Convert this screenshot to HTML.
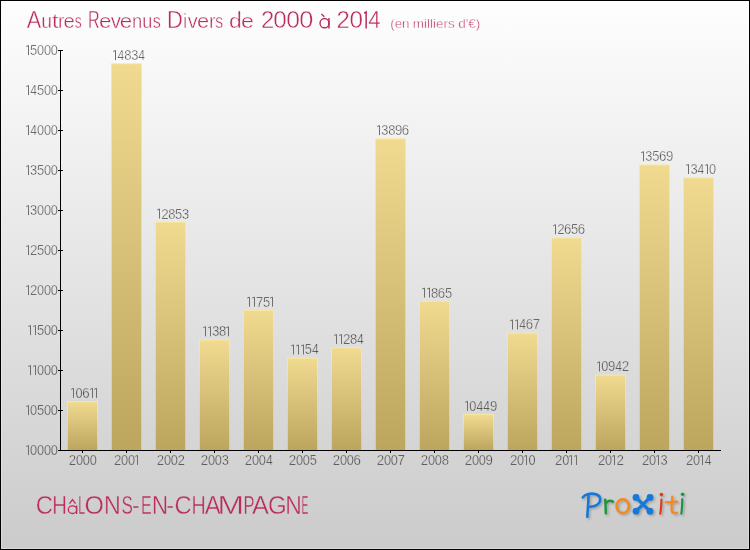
<!DOCTYPE html>
<html><head><meta charset="utf-8"><title>Autres Revenus Divers de 2000 à 2014</title>
<style>
html,body{margin:0;padding:0;}
body{width:750px;height:550px;overflow:hidden;background:#cbcbcb;font-family:"Liberation Sans",sans-serif;}
#c{position:absolute;left:0;top:0;width:750px;height:550px;box-sizing:border-box;border:1px solid #000;
background:linear-gradient(to bottom,rgb(254,254,254) 0%,rgb(203,203,203) 100%);}
svg{position:absolute;left:0;top:0;font-family:"Liberation Sans",sans-serif;will-change:transform;}
</style></head><body>
<div id="c"></div>
<svg width="750" height="550" viewBox="0 0 750 550">
<defs>
<linearGradient id="bar" x1="0" y1="0" x2="0" y2="1"><stop offset="0" stop-color="#f0da90"/><stop offset="1" stop-color="#bca65e"/></linearGradient>
<linearGradient id="bare" x1="0" y1="0" x2="0" y2="1"><stop offset="0" stop-color="#f9e8a0"/><stop offset="1" stop-color="#e0cd84"/></linearGradient>
<filter id="sh" x="-10%" y="-20%" width="125%" height="150%"><feGaussianBlur stdDeviation="0.8"/></filter>
</defs>
<rect x="1.5" y="1.5" width="747" height="547" fill="none" stroke="#ffffff" stroke-opacity="0.3" stroke-width="1"/>
<rect x="67" y="401.12" width="31" height="48.88" fill="url(#bare)"/>
<rect x="68" y="402.12" width="29" height="47.88" fill="url(#bar)"/>
<rect x="111" y="63.28" width="31" height="386.72" fill="url(#bare)"/>
<rect x="112" y="64.28" width="29" height="385.72" fill="url(#bar)"/>
<rect x="155" y="221.76" width="31" height="228.24" fill="url(#bare)"/>
<rect x="156" y="222.76" width="29" height="227.24" fill="url(#bar)"/>
<rect x="199" y="339.52" width="31" height="110.48" fill="url(#bare)"/>
<rect x="200" y="340.52" width="29" height="109.48" fill="url(#bar)"/>
<rect x="243" y="309.92" width="31" height="140.08" fill="url(#bare)"/>
<rect x="244" y="310.92" width="29" height="139.08" fill="url(#bar)"/>
<rect x="287" y="357.68" width="31" height="92.32" fill="url(#bare)"/>
<rect x="288" y="358.68" width="29" height="91.32" fill="url(#bar)"/>
<rect x="331" y="347.28" width="31" height="102.72" fill="url(#bare)"/>
<rect x="332" y="348.28" width="29" height="101.72" fill="url(#bar)"/>
<rect x="375" y="138.32" width="31" height="311.68" fill="url(#bare)"/>
<rect x="376" y="139.32" width="29" height="310.68" fill="url(#bar)"/>
<rect x="419" y="300.80" width="31" height="149.20" fill="url(#bare)"/>
<rect x="420" y="301.80" width="29" height="148.20" fill="url(#bar)"/>
<rect x="463" y="414.08" width="31" height="35.92" fill="url(#bare)"/>
<rect x="464" y="415.08" width="29" height="34.92" fill="url(#bar)"/>
<rect x="507" y="332.64" width="31" height="117.36" fill="url(#bare)"/>
<rect x="508" y="333.64" width="29" height="116.36" fill="url(#bar)"/>
<rect x="551" y="237.52" width="31" height="212.48" fill="url(#bare)"/>
<rect x="552" y="238.52" width="29" height="211.48" fill="url(#bar)"/>
<rect x="595" y="374.64" width="31" height="75.36" fill="url(#bare)"/>
<rect x="596" y="375.64" width="29" height="74.36" fill="url(#bar)"/>
<rect x="639" y="164.48" width="31" height="285.52" fill="url(#bare)"/>
<rect x="640" y="165.48" width="29" height="284.52" fill="url(#bar)"/>
<rect x="683" y="177.20" width="31" height="272.80" fill="url(#bare)"/>
<rect x="684" y="178.20" width="29" height="271.80" fill="url(#bar)"/>
<rect x="60" y="50" width="1" height="401" fill="#000"/>
<rect x="60" y="450" width="661" height="1" fill="#000"/>
<rect x="58" y="50" width="5" height="1" fill="#000"/>
<path d="M26.20 46.50 L28.50 45.50 L28.50 55.10" fill="none" stroke="#6e6e6e" stroke-width="1" stroke-linejoin="miter"/>
<text transform="translate(30.08 55.10) scale(0.8873 1)" font-size="14.50" fill="#303030" stroke="#f9f9f9" stroke-width="0.46">5</text>
<text transform="translate(37.00 55.10) scale(0.8801 1)" font-size="14.50" fill="#303030" stroke="#f9f9f9" stroke-width="0.46">0</text>
<text transform="translate(43.90 55.10) scale(0.8801 1)" font-size="14.50" fill="#303030" stroke="#f9f9f9" stroke-width="0.46">0</text>
<text transform="translate(50.80 55.10) scale(0.8801 1)" font-size="14.50" fill="#303030" stroke="#f9f9f9" stroke-width="0.46">0</text>
<rect x="58" y="90" width="5" height="1" fill="#000"/>
<path d="M26.20 86.50 L28.50 85.50 L28.50 95.10" fill="none" stroke="#6e6e6e" stroke-width="1" stroke-linejoin="miter"/>
<text transform="translate(30.32 95.10) scale(0.8349 1)" font-size="14.50" fill="#303030" stroke="#f6f6f6" stroke-width="0.46">4</text>
<text transform="translate(36.98 95.10) scale(0.8873 1)" font-size="14.50" fill="#303030" stroke="#f6f6f6" stroke-width="0.46">5</text>
<text transform="translate(43.90 95.10) scale(0.8801 1)" font-size="14.50" fill="#303030" stroke="#f6f6f6" stroke-width="0.46">0</text>
<text transform="translate(50.80 95.10) scale(0.8801 1)" font-size="14.50" fill="#303030" stroke="#f6f6f6" stroke-width="0.46">0</text>
<rect x="58" y="130" width="5" height="1" fill="#000"/>
<path d="M26.20 126.50 L28.50 125.50 L28.50 135.10" fill="none" stroke="#6e6e6e" stroke-width="1" stroke-linejoin="miter"/>
<text transform="translate(30.32 135.10) scale(0.8349 1)" font-size="14.50" fill="#303030" stroke="#f2f2f2" stroke-width="0.46">4</text>
<text transform="translate(37.00 135.10) scale(0.8801 1)" font-size="14.50" fill="#303030" stroke="#f2f2f2" stroke-width="0.46">0</text>
<text transform="translate(43.90 135.10) scale(0.8801 1)" font-size="14.50" fill="#303030" stroke="#f2f2f2" stroke-width="0.46">0</text>
<text transform="translate(50.80 135.10) scale(0.8801 1)" font-size="14.50" fill="#303030" stroke="#f2f2f2" stroke-width="0.46">0</text>
<rect x="58" y="170" width="5" height="1" fill="#000"/>
<path d="M26.20 166.50 L28.50 165.50 L28.50 175.10" fill="none" stroke="#6e6e6e" stroke-width="1" stroke-linejoin="miter"/>
<text transform="translate(30.11 175.10) scale(0.8873 1)" font-size="14.50" fill="#303030" stroke="#eeeeee" stroke-width="0.46">3</text>
<text transform="translate(36.98 175.10) scale(0.8873 1)" font-size="14.50" fill="#303030" stroke="#eeeeee" stroke-width="0.46">5</text>
<text transform="translate(43.90 175.10) scale(0.8801 1)" font-size="14.50" fill="#303030" stroke="#eeeeee" stroke-width="0.46">0</text>
<text transform="translate(50.80 175.10) scale(0.8801 1)" font-size="14.50" fill="#303030" stroke="#eeeeee" stroke-width="0.46">0</text>
<rect x="58" y="210" width="5" height="1" fill="#000"/>
<path d="M26.20 206.50 L28.50 205.50 L28.50 215.10" fill="none" stroke="#6e6e6e" stroke-width="1" stroke-linejoin="miter"/>
<text transform="translate(30.11 215.10) scale(0.8873 1)" font-size="14.50" fill="#303030" stroke="#ebebeb" stroke-width="0.46">3</text>
<text transform="translate(37.00 215.10) scale(0.8801 1)" font-size="14.50" fill="#303030" stroke="#ebebeb" stroke-width="0.46">0</text>
<text transform="translate(43.90 215.10) scale(0.8801 1)" font-size="14.50" fill="#303030" stroke="#ebebeb" stroke-width="0.46">0</text>
<text transform="translate(50.80 215.10) scale(0.8801 1)" font-size="14.50" fill="#303030" stroke="#ebebeb" stroke-width="0.46">0</text>
<rect x="58" y="250" width="5" height="1" fill="#000"/>
<path d="M26.20 246.50 L28.50 245.50 L28.50 255.10" fill="none" stroke="#6e6e6e" stroke-width="1" stroke-linejoin="miter"/>
<text transform="translate(29.93 255.10) scale(0.9234 1)" font-size="14.50" fill="#303030" stroke="#e7e7e7" stroke-width="0.46">2</text>
<text transform="translate(36.98 255.10) scale(0.8873 1)" font-size="14.50" fill="#303030" stroke="#e7e7e7" stroke-width="0.46">5</text>
<text transform="translate(43.90 255.10) scale(0.8801 1)" font-size="14.50" fill="#303030" stroke="#e7e7e7" stroke-width="0.46">0</text>
<text transform="translate(50.80 255.10) scale(0.8801 1)" font-size="14.50" fill="#303030" stroke="#e7e7e7" stroke-width="0.46">0</text>
<rect x="58" y="290" width="5" height="1" fill="#000"/>
<path d="M26.20 286.50 L28.50 285.50 L28.50 295.10" fill="none" stroke="#6e6e6e" stroke-width="1" stroke-linejoin="miter"/>
<text transform="translate(29.93 295.10) scale(0.9234 1)" font-size="14.50" fill="#303030" stroke="#e3e3e3" stroke-width="0.46">2</text>
<text transform="translate(37.00 295.10) scale(0.8801 1)" font-size="14.50" fill="#303030" stroke="#e3e3e3" stroke-width="0.46">0</text>
<text transform="translate(43.90 295.10) scale(0.8801 1)" font-size="14.50" fill="#303030" stroke="#e3e3e3" stroke-width="0.46">0</text>
<text transform="translate(50.80 295.10) scale(0.8801 1)" font-size="14.50" fill="#303030" stroke="#e3e3e3" stroke-width="0.46">0</text>
<rect x="58" y="330" width="5" height="1" fill="#000"/>
<path d="M28.20 326.50 L30.50 325.50 L30.50 335.10" fill="none" stroke="#6e6e6e" stroke-width="1" stroke-linejoin="miter"/>
<path d="M33.20 326.50 L35.50 325.50 L35.50 335.10" fill="none" stroke="#6e6e6e" stroke-width="1" stroke-linejoin="miter"/>
<text transform="translate(36.98 335.10) scale(0.8873 1)" font-size="14.50" fill="#303030" stroke="#dfdfdf" stroke-width="0.46">5</text>
<text transform="translate(43.90 335.10) scale(0.8801 1)" font-size="14.50" fill="#303030" stroke="#dfdfdf" stroke-width="0.46">0</text>
<text transform="translate(50.80 335.10) scale(0.8801 1)" font-size="14.50" fill="#303030" stroke="#dfdfdf" stroke-width="0.46">0</text>
<rect x="58" y="370" width="5" height="1" fill="#000"/>
<path d="M28.20 366.50 L30.50 365.50 L30.50 375.10" fill="none" stroke="#6e6e6e" stroke-width="1" stroke-linejoin="miter"/>
<path d="M33.20 366.50 L35.50 365.50 L35.50 375.10" fill="none" stroke="#6e6e6e" stroke-width="1" stroke-linejoin="miter"/>
<text transform="translate(37.00 375.10) scale(0.8801 1)" font-size="14.50" fill="#303030" stroke="#dcdcdc" stroke-width="0.46">0</text>
<text transform="translate(43.90 375.10) scale(0.8801 1)" font-size="14.50" fill="#303030" stroke="#dcdcdc" stroke-width="0.46">0</text>
<text transform="translate(50.80 375.10) scale(0.8801 1)" font-size="14.50" fill="#303030" stroke="#dcdcdc" stroke-width="0.46">0</text>
<rect x="58" y="410" width="5" height="1" fill="#000"/>
<path d="M26.20 406.50 L28.50 405.50 L28.50 415.10" fill="none" stroke="#6e6e6e" stroke-width="1" stroke-linejoin="miter"/>
<text transform="translate(30.10 415.10) scale(0.8801 1)" font-size="14.50" fill="#303030" stroke="#d8d8d8" stroke-width="0.46">0</text>
<text transform="translate(36.98 415.10) scale(0.8873 1)" font-size="14.50" fill="#303030" stroke="#d8d8d8" stroke-width="0.46">5</text>
<text transform="translate(43.90 415.10) scale(0.8801 1)" font-size="14.50" fill="#303030" stroke="#d8d8d8" stroke-width="0.46">0</text>
<text transform="translate(50.80 415.10) scale(0.8801 1)" font-size="14.50" fill="#303030" stroke="#d8d8d8" stroke-width="0.46">0</text>
<rect x="58" y="450" width="5" height="1" fill="#000"/>
<path d="M26.20 446.50 L28.50 445.50 L28.50 455.10" fill="none" stroke="#6e6e6e" stroke-width="1" stroke-linejoin="miter"/>
<text transform="translate(30.10 455.10) scale(0.8801 1)" font-size="14.50" fill="#303030" stroke="#d4d4d4" stroke-width="0.46">0</text>
<text transform="translate(37.00 455.10) scale(0.8801 1)" font-size="14.50" fill="#303030" stroke="#d4d4d4" stroke-width="0.46">0</text>
<text transform="translate(43.90 455.10) scale(0.8801 1)" font-size="14.50" fill="#303030" stroke="#d4d4d4" stroke-width="0.46">0</text>
<text transform="translate(50.80 455.10) scale(0.8801 1)" font-size="14.50" fill="#303030" stroke="#d4d4d4" stroke-width="0.46">0</text>
<rect x="82" y="451" width="1" height="2" fill="#000"/>
<text transform="translate(68.83 465.00) scale(0.9234 1)" font-size="14.50" fill="#303030" stroke="#d3d3d3" stroke-width="0.46">2</text>
<text transform="translate(75.90 465.00) scale(0.8801 1)" font-size="14.50" fill="#303030" stroke="#d3d3d3" stroke-width="0.46">0</text>
<text transform="translate(82.80 465.00) scale(0.8801 1)" font-size="14.50" fill="#303030" stroke="#d3d3d3" stroke-width="0.46">0</text>
<text transform="translate(89.70 465.00) scale(0.8801 1)" font-size="14.50" fill="#303030" stroke="#d3d3d3" stroke-width="0.46">0</text>
<path d="M71.20 389.32 L73.50 388.32 L73.50 397.92" fill="none" stroke="#6e6e6e" stroke-width="1" stroke-linejoin="miter"/>
<text transform="translate(75.58 397.92) scale(0.8801 1)" font-size="14.50" fill="#303030" stroke="#dadada" stroke-width="0.46">0</text>
<text transform="translate(82.30 397.92) scale(0.9117 1)" font-size="14.50" fill="#303030" stroke="#dadada" stroke-width="0.46">6</text>
<path d="M90.20 389.32 L92.50 388.32 L92.50 397.92" fill="none" stroke="#6e6e6e" stroke-width="1" stroke-linejoin="miter"/>
<path d="M94.20 389.32 L96.50 388.32 L96.50 397.92" fill="none" stroke="#6e6e6e" stroke-width="1" stroke-linejoin="miter"/>
<rect x="126" y="451" width="1" height="2" fill="#000"/>
<text transform="translate(113.95 465.00) scale(0.9234 1)" font-size="14.50" fill="#303030" stroke="#d3d3d3" stroke-width="0.46">2</text>
<text transform="translate(121.03 465.00) scale(0.8801 1)" font-size="14.50" fill="#303030" stroke="#d3d3d3" stroke-width="0.46">0</text>
<text transform="translate(127.93 465.00) scale(0.8801 1)" font-size="14.50" fill="#303030" stroke="#d3d3d3" stroke-width="0.46">0</text>
<path d="M135.20 456.40 L137.50 455.40 L137.50 465.00" fill="none" stroke="#6e6e6e" stroke-width="1" stroke-linejoin="miter"/>
<path d="M113.20 51.48 L115.50 50.48 L115.50 60.08" fill="none" stroke="#6e6e6e" stroke-width="1" stroke-linejoin="miter"/>
<text transform="translate(117.55 60.08) scale(0.8349 1)" font-size="14.50" fill="#303030" stroke="#f9f9f9" stroke-width="0.46">4</text>
<text transform="translate(124.16 60.08) scale(0.8965 1)" font-size="14.50" fill="#303030" stroke="#f9f9f9" stroke-width="0.46">8</text>
<text transform="translate(131.13 60.08) scale(0.8873 1)" font-size="14.50" fill="#303030" stroke="#f9f9f9" stroke-width="0.46">3</text>
<text transform="translate(138.25 60.08) scale(0.8349 1)" font-size="14.50" fill="#303030" stroke="#f9f9f9" stroke-width="0.46">4</text>
<rect x="170" y="451" width="1" height="2" fill="#000"/>
<text transform="translate(156.83 465.00) scale(0.9234 1)" font-size="14.50" fill="#303030" stroke="#d3d3d3" stroke-width="0.46">2</text>
<text transform="translate(163.90 465.00) scale(0.8801 1)" font-size="14.50" fill="#303030" stroke="#d3d3d3" stroke-width="0.46">0</text>
<text transform="translate(170.80 465.00) scale(0.8801 1)" font-size="14.50" fill="#303030" stroke="#d3d3d3" stroke-width="0.46">0</text>
<text transform="translate(177.53 465.00) scale(0.9234 1)" font-size="14.50" fill="#303030" stroke="#d3d3d3" stroke-width="0.46">2</text>
<path d="M157.20 209.96 L159.50 208.96 L159.50 218.56" fill="none" stroke="#6e6e6e" stroke-width="1" stroke-linejoin="miter"/>
<text transform="translate(161.15 218.56) scale(0.9234 1)" font-size="14.50" fill="#303030" stroke="#eaeaea" stroke-width="0.46">2</text>
<text transform="translate(168.16 218.56) scale(0.8965 1)" font-size="14.50" fill="#303030" stroke="#eaeaea" stroke-width="0.46">8</text>
<text transform="translate(175.11 218.56) scale(0.8873 1)" font-size="14.50" fill="#303030" stroke="#eaeaea" stroke-width="0.46">5</text>
<text transform="translate(182.03 218.56) scale(0.8873 1)" font-size="14.50" fill="#303030" stroke="#eaeaea" stroke-width="0.46">3</text>
<rect x="214" y="451" width="1" height="2" fill="#000"/>
<text transform="translate(200.83 465.00) scale(0.9234 1)" font-size="14.50" fill="#303030" stroke="#d3d3d3" stroke-width="0.46">2</text>
<text transform="translate(207.90 465.00) scale(0.8801 1)" font-size="14.50" fill="#303030" stroke="#d3d3d3" stroke-width="0.46">0</text>
<text transform="translate(214.80 465.00) scale(0.8801 1)" font-size="14.50" fill="#303030" stroke="#d3d3d3" stroke-width="0.46">0</text>
<text transform="translate(221.71 465.00) scale(0.8873 1)" font-size="14.50" fill="#303030" stroke="#d3d3d3" stroke-width="0.46">3</text>
<path d="M203.20 327.72 L205.50 326.72 L205.50 336.32" fill="none" stroke="#6e6e6e" stroke-width="1" stroke-linejoin="miter"/>
<path d="M208.20 327.72 L210.50 326.72 L210.50 336.32" fill="none" stroke="#6e6e6e" stroke-width="1" stroke-linejoin="miter"/>
<text transform="translate(212.23 336.32) scale(0.8873 1)" font-size="14.50" fill="#303030" stroke="#dfdfdf" stroke-width="0.46">3</text>
<text transform="translate(219.06 336.32) scale(0.8965 1)" font-size="14.50" fill="#303030" stroke="#dfdfdf" stroke-width="0.46">8</text>
<path d="M226.20 327.72 L228.50 326.72 L228.50 336.32" fill="none" stroke="#6e6e6e" stroke-width="1" stroke-linejoin="miter"/>
<rect x="258" y="451" width="1" height="2" fill="#000"/>
<text transform="translate(244.83 465.00) scale(0.9234 1)" font-size="14.50" fill="#303030" stroke="#d3d3d3" stroke-width="0.46">2</text>
<text transform="translate(251.90 465.00) scale(0.8801 1)" font-size="14.50" fill="#303030" stroke="#d3d3d3" stroke-width="0.46">0</text>
<text transform="translate(258.80 465.00) scale(0.8801 1)" font-size="14.50" fill="#303030" stroke="#d3d3d3" stroke-width="0.46">0</text>
<text transform="translate(265.92 465.00) scale(0.8349 1)" font-size="14.50" fill="#303030" stroke="#d3d3d3" stroke-width="0.46">4</text>
<path d="M247.20 298.12 L249.50 297.12 L249.50 306.72" fill="none" stroke="#6e6e6e" stroke-width="1" stroke-linejoin="miter"/>
<path d="M252.20 298.12 L254.50 297.12 L254.50 306.72" fill="none" stroke="#6e6e6e" stroke-width="1" stroke-linejoin="miter"/>
<text transform="translate(256.04 306.72) scale(0.9254 1)" font-size="14.50" fill="#303030" stroke="#e2e2e2" stroke-width="0.46">7</text>
<text transform="translate(263.11 306.72) scale(0.8873 1)" font-size="14.50" fill="#303030" stroke="#e2e2e2" stroke-width="0.46">5</text>
<path d="M270.20 298.12 L272.50 297.12 L272.50 306.72" fill="none" stroke="#6e6e6e" stroke-width="1" stroke-linejoin="miter"/>
<rect x="302" y="451" width="1" height="2" fill="#000"/>
<text transform="translate(288.83 465.00) scale(0.9234 1)" font-size="14.50" fill="#303030" stroke="#d3d3d3" stroke-width="0.46">2</text>
<text transform="translate(295.90 465.00) scale(0.8801 1)" font-size="14.50" fill="#303030" stroke="#d3d3d3" stroke-width="0.46">0</text>
<text transform="translate(302.80 465.00) scale(0.8801 1)" font-size="14.50" fill="#303030" stroke="#d3d3d3" stroke-width="0.46">0</text>
<text transform="translate(309.68 465.00) scale(0.8873 1)" font-size="14.50" fill="#303030" stroke="#d3d3d3" stroke-width="0.46">5</text>
<path d="M291.20 345.88 L293.50 344.88 L293.50 354.48" fill="none" stroke="#6e6e6e" stroke-width="1" stroke-linejoin="miter"/>
<path d="M296.20 345.88 L298.50 344.88 L298.50 354.48" fill="none" stroke="#6e6e6e" stroke-width="1" stroke-linejoin="miter"/>
<path d="M301.20 345.88 L303.50 344.88 L303.50 354.48" fill="none" stroke="#6e6e6e" stroke-width="1" stroke-linejoin="miter"/>
<text transform="translate(304.86 354.48) scale(0.8873 1)" font-size="14.50" fill="#303030" stroke="#dedede" stroke-width="0.46">5</text>
<text transform="translate(312.00 354.48) scale(0.8349 1)" font-size="14.50" fill="#303030" stroke="#dedede" stroke-width="0.46">4</text>
<rect x="346" y="451" width="1" height="2" fill="#000"/>
<text transform="translate(332.83 465.00) scale(0.9234 1)" font-size="14.50" fill="#303030" stroke="#d3d3d3" stroke-width="0.46">2</text>
<text transform="translate(339.90 465.00) scale(0.8801 1)" font-size="14.50" fill="#303030" stroke="#d3d3d3" stroke-width="0.46">0</text>
<text transform="translate(346.80 465.00) scale(0.8801 1)" font-size="14.50" fill="#303030" stroke="#d3d3d3" stroke-width="0.46">0</text>
<text transform="translate(353.53 465.00) scale(0.9117 1)" font-size="14.50" fill="#303030" stroke="#d3d3d3" stroke-width="0.46">6</text>
<path d="M334.20 335.48 L336.50 334.48 L336.50 344.08" fill="none" stroke="#6e6e6e" stroke-width="1" stroke-linejoin="miter"/>
<path d="M339.20 335.48 L341.50 334.48 L341.50 344.08" fill="none" stroke="#6e6e6e" stroke-width="1" stroke-linejoin="miter"/>
<text transform="translate(342.93 344.08) scale(0.9234 1)" font-size="14.50" fill="#303030" stroke="#dfdfdf" stroke-width="0.46">2</text>
<text transform="translate(349.94 344.08) scale(0.8965 1)" font-size="14.50" fill="#303030" stroke="#dfdfdf" stroke-width="0.46">8</text>
<text transform="translate(357.12 344.08) scale(0.8349 1)" font-size="14.50" fill="#303030" stroke="#dfdfdf" stroke-width="0.46">4</text>
<rect x="390" y="451" width="1" height="2" fill="#000"/>
<text transform="translate(376.83 465.00) scale(0.9234 1)" font-size="14.50" fill="#303030" stroke="#d3d3d3" stroke-width="0.46">2</text>
<text transform="translate(383.90 465.00) scale(0.8801 1)" font-size="14.50" fill="#303030" stroke="#d3d3d3" stroke-width="0.46">0</text>
<text transform="translate(390.80 465.00) scale(0.8801 1)" font-size="14.50" fill="#303030" stroke="#d3d3d3" stroke-width="0.46">0</text>
<text transform="translate(397.51 465.00) scale(0.9254 1)" font-size="14.50" fill="#303030" stroke="#d3d3d3" stroke-width="0.46">7</text>
<path d="M377.20 126.52 L379.50 125.52 L379.50 135.12" fill="none" stroke="#6e6e6e" stroke-width="1" stroke-linejoin="miter"/>
<text transform="translate(381.33 135.12) scale(0.8873 1)" font-size="14.50" fill="#303030" stroke="#f2f2f2" stroke-width="0.46">3</text>
<text transform="translate(388.16 135.12) scale(0.8965 1)" font-size="14.50" fill="#303030" stroke="#f2f2f2" stroke-width="0.46">8</text>
<text transform="translate(395.01 135.12) scale(0.9108 1)" font-size="14.50" fill="#303030" stroke="#f2f2f2" stroke-width="0.46">9</text>
<text transform="translate(401.85 135.12) scale(0.9117 1)" font-size="14.50" fill="#303030" stroke="#f2f2f2" stroke-width="0.46">6</text>
<rect x="434" y="451" width="1" height="2" fill="#000"/>
<text transform="translate(420.83 465.00) scale(0.9234 1)" font-size="14.50" fill="#303030" stroke="#d3d3d3" stroke-width="0.46">2</text>
<text transform="translate(427.90 465.00) scale(0.8801 1)" font-size="14.50" fill="#303030" stroke="#d3d3d3" stroke-width="0.46">0</text>
<text transform="translate(434.80 465.00) scale(0.8801 1)" font-size="14.50" fill="#303030" stroke="#d3d3d3" stroke-width="0.46">0</text>
<text transform="translate(441.64 465.00) scale(0.8965 1)" font-size="14.50" fill="#303030" stroke="#d3d3d3" stroke-width="0.46">8</text>
<path d="M422.20 289.00 L424.50 288.00 L424.50 297.60" fill="none" stroke="#6e6e6e" stroke-width="1" stroke-linejoin="miter"/>
<path d="M427.20 289.00 L429.50 288.00 L429.50 297.60" fill="none" stroke="#6e6e6e" stroke-width="1" stroke-linejoin="miter"/>
<text transform="translate(431.04 297.60) scale(0.8965 1)" font-size="14.50" fill="#303030" stroke="#e3e3e3" stroke-width="0.46">8</text>
<text transform="translate(437.83 297.60) scale(0.9117 1)" font-size="14.50" fill="#303030" stroke="#e3e3e3" stroke-width="0.46">6</text>
<text transform="translate(444.88 297.60) scale(0.8873 1)" font-size="14.50" fill="#303030" stroke="#e3e3e3" stroke-width="0.46">5</text>
<rect x="478" y="451" width="1" height="2" fill="#000"/>
<text transform="translate(464.83 465.00) scale(0.9234 1)" font-size="14.50" fill="#303030" stroke="#d3d3d3" stroke-width="0.46">2</text>
<text transform="translate(471.90 465.00) scale(0.8801 1)" font-size="14.50" fill="#303030" stroke="#d3d3d3" stroke-width="0.46">0</text>
<text transform="translate(478.80 465.00) scale(0.8801 1)" font-size="14.50" fill="#303030" stroke="#d3d3d3" stroke-width="0.46">0</text>
<text transform="translate(485.58 465.00) scale(0.9108 1)" font-size="14.50" fill="#303030" stroke="#d3d3d3" stroke-width="0.46">9</text>
<path d="M465.20 402.28 L467.50 401.28 L467.50 410.88" fill="none" stroke="#6e6e6e" stroke-width="1" stroke-linejoin="miter"/>
<text transform="translate(469.33 410.88) scale(0.8801 1)" font-size="14.50" fill="#303030" stroke="#d8d8d8" stroke-width="0.46">0</text>
<text transform="translate(476.45 410.88) scale(0.8349 1)" font-size="14.50" fill="#303030" stroke="#d8d8d8" stroke-width="0.46">4</text>
<text transform="translate(483.35 410.88) scale(0.8349 1)" font-size="14.50" fill="#303030" stroke="#d8d8d8" stroke-width="0.46">4</text>
<text transform="translate(489.91 410.88) scale(0.9108 1)" font-size="14.50" fill="#303030" stroke="#d8d8d8" stroke-width="0.46">9</text>
<rect x="522" y="451" width="1" height="2" fill="#000"/>
<text transform="translate(509.95 465.00) scale(0.9234 1)" font-size="14.50" fill="#303030" stroke="#d3d3d3" stroke-width="0.46">2</text>
<text transform="translate(517.03 465.00) scale(0.8801 1)" font-size="14.50" fill="#303030" stroke="#d3d3d3" stroke-width="0.46">0</text>
<path d="M524.20 456.40 L526.50 455.40 L526.50 465.00" fill="none" stroke="#6e6e6e" stroke-width="1" stroke-linejoin="miter"/>
<text transform="translate(528.58 465.00) scale(0.8801 1)" font-size="14.50" fill="#303030" stroke="#d3d3d3" stroke-width="0.46">0</text>
<path d="M510.20 320.84 L512.50 319.84 L512.50 329.44" fill="none" stroke="#6e6e6e" stroke-width="1" stroke-linejoin="miter"/>
<path d="M515.20 320.84 L517.50 319.84 L517.50 329.44" fill="none" stroke="#6e6e6e" stroke-width="1" stroke-linejoin="miter"/>
<text transform="translate(519.32 329.44) scale(0.8349 1)" font-size="14.50" fill="#303030" stroke="#e0e0e0" stroke-width="0.46">4</text>
<text transform="translate(525.83 329.44) scale(0.9117 1)" font-size="14.50" fill="#303030" stroke="#e0e0e0" stroke-width="0.46">6</text>
<text transform="translate(532.71 329.44) scale(0.9254 1)" font-size="14.50" fill="#303030" stroke="#e0e0e0" stroke-width="0.46">7</text>
<rect x="566" y="451" width="1" height="2" fill="#000"/>
<text transform="translate(555.08 465.00) scale(0.9234 1)" font-size="14.50" fill="#303030" stroke="#d3d3d3" stroke-width="0.46">2</text>
<text transform="translate(562.15 465.00) scale(0.8801 1)" font-size="14.50" fill="#303030" stroke="#d3d3d3" stroke-width="0.46">0</text>
<path d="M569.20 456.40 L571.50 455.40 L571.50 465.00" fill="none" stroke="#6e6e6e" stroke-width="1" stroke-linejoin="miter"/>
<path d="M574.20 456.40 L576.50 455.40 L576.50 465.00" fill="none" stroke="#6e6e6e" stroke-width="1" stroke-linejoin="miter"/>
<path d="M553.20 225.72 L555.50 224.72 L555.50 234.32" fill="none" stroke="#6e6e6e" stroke-width="1" stroke-linejoin="miter"/>
<text transform="translate(557.15 234.32) scale(0.9234 1)" font-size="14.50" fill="#303030" stroke="#e9e9e9" stroke-width="0.46">2</text>
<text transform="translate(564.05 234.32) scale(0.9117 1)" font-size="14.50" fill="#303030" stroke="#e9e9e9" stroke-width="0.46">6</text>
<text transform="translate(571.11 234.32) scale(0.8873 1)" font-size="14.50" fill="#303030" stroke="#e9e9e9" stroke-width="0.46">5</text>
<text transform="translate(577.85 234.32) scale(0.9117 1)" font-size="14.50" fill="#303030" stroke="#e9e9e9" stroke-width="0.46">6</text>
<rect x="610" y="451" width="1" height="2" fill="#000"/>
<text transform="translate(597.95 465.00) scale(0.9234 1)" font-size="14.50" fill="#303030" stroke="#d3d3d3" stroke-width="0.46">2</text>
<text transform="translate(605.03 465.00) scale(0.8801 1)" font-size="14.50" fill="#303030" stroke="#d3d3d3" stroke-width="0.46">0</text>
<path d="M612.20 456.40 L614.50 455.40 L614.50 465.00" fill="none" stroke="#6e6e6e" stroke-width="1" stroke-linejoin="miter"/>
<text transform="translate(616.40 465.00) scale(0.9234 1)" font-size="14.50" fill="#303030" stroke="#d3d3d3" stroke-width="0.46">2</text>
<path d="M597.20 362.84 L599.50 361.84 L599.50 371.44" fill="none" stroke="#6e6e6e" stroke-width="1" stroke-linejoin="miter"/>
<text transform="translate(601.33 371.44) scale(0.8801 1)" font-size="14.50" fill="#303030" stroke="#dcdcdc" stroke-width="0.46">0</text>
<text transform="translate(608.11 371.44) scale(0.9108 1)" font-size="14.50" fill="#303030" stroke="#dcdcdc" stroke-width="0.46">9</text>
<text transform="translate(615.35 371.44) scale(0.8349 1)" font-size="14.50" fill="#303030" stroke="#dcdcdc" stroke-width="0.46">4</text>
<text transform="translate(621.85 371.44) scale(0.9234 1)" font-size="14.50" fill="#303030" stroke="#dcdcdc" stroke-width="0.46">2</text>
<rect x="654" y="451" width="1" height="2" fill="#000"/>
<text transform="translate(641.95 465.00) scale(0.9234 1)" font-size="14.50" fill="#303030" stroke="#d3d3d3" stroke-width="0.46">2</text>
<text transform="translate(649.03 465.00) scale(0.8801 1)" font-size="14.50" fill="#303030" stroke="#d3d3d3" stroke-width="0.46">0</text>
<path d="M656.20 456.40 L658.50 455.40 L658.50 465.00" fill="none" stroke="#6e6e6e" stroke-width="1" stroke-linejoin="miter"/>
<text transform="translate(660.58 465.00) scale(0.8873 1)" font-size="14.50" fill="#303030" stroke="#d3d3d3" stroke-width="0.46">3</text>
<path d="M641.20 152.68 L643.50 151.68 L643.50 161.28" fill="none" stroke="#6e6e6e" stroke-width="1" stroke-linejoin="miter"/>
<text transform="translate(645.33 161.28) scale(0.8873 1)" font-size="14.50" fill="#303030" stroke="#f0f0f0" stroke-width="0.46">3</text>
<text transform="translate(652.21 161.28) scale(0.8873 1)" font-size="14.50" fill="#303030" stroke="#f0f0f0" stroke-width="0.46">5</text>
<text transform="translate(658.95 161.28) scale(0.9117 1)" font-size="14.50" fill="#303030" stroke="#f0f0f0" stroke-width="0.46">6</text>
<text transform="translate(665.91 161.28) scale(0.9108 1)" font-size="14.50" fill="#303030" stroke="#f0f0f0" stroke-width="0.46">9</text>
<rect x="698" y="451" width="1" height="2" fill="#000"/>
<text transform="translate(685.95 465.00) scale(0.9234 1)" font-size="14.50" fill="#303030" stroke="#d3d3d3" stroke-width="0.46">2</text>
<text transform="translate(693.03 465.00) scale(0.8801 1)" font-size="14.50" fill="#303030" stroke="#d3d3d3" stroke-width="0.46">0</text>
<path d="M700.20 456.40 L702.50 455.40 L702.50 465.00" fill="none" stroke="#6e6e6e" stroke-width="1" stroke-linejoin="miter"/>
<text transform="translate(704.80 465.00) scale(0.8349 1)" font-size="14.50" fill="#303030" stroke="#d3d3d3" stroke-width="0.46">4</text>
<path d="M686.20 165.40 L688.50 164.40 L688.50 174.00" fill="none" stroke="#6e6e6e" stroke-width="1" stroke-linejoin="miter"/>
<text transform="translate(690.46 174.00) scale(0.8873 1)" font-size="14.50" fill="#303030" stroke="#eeeeee" stroke-width="0.46">3</text>
<text transform="translate(697.57 174.00) scale(0.8349 1)" font-size="14.50" fill="#303030" stroke="#eeeeee" stroke-width="0.46">4</text>
<path d="M705.20 165.40 L707.50 164.40 L707.50 174.00" fill="none" stroke="#6e6e6e" stroke-width="1" stroke-linejoin="miter"/>
<text transform="translate(708.90 174.00) scale(0.8801 1)" font-size="14.50" fill="#303030" stroke="#eeeeee" stroke-width="0.46">0</text>
<text transform="translate(26.76 28.40) scale(0.8974 1)" font-size="24.20" fill="#bb2b5b" stroke="#fcfcfc" stroke-width="0.40">A</text>
<text transform="translate(41.35 28.40) scale(0.9651 1)" font-size="20.00" fill="#bb2b5b" stroke="#fcfcfc" stroke-width="0.40">u</text>
<text transform="translate(52.04 28.40) scale(1.1748 1)" font-size="20.00" fill="#bb2b5b" stroke="#fcfcfc" stroke-width="0.40">t</text>
<text transform="translate(57.93 28.40) scale(0.9600 1)" font-size="20.00" fill="#bb2b5b" stroke="#fcfcfc" stroke-width="0.40">r</text>
<text transform="translate(63.53 28.40) scale(1.0229 1)" font-size="20.00" fill="#bb2b5b" stroke="#fcfcfc" stroke-width="0.40">e</text>
<text transform="translate(74.82 28.40) scale(0.6880 1)" font-size="20.00" fill="#bb2b5b" stroke="#fcfcfc" stroke-width="0.40">s</text>
<text transform="translate(87.97 28.40) scale(0.6681 1)" font-size="24.20" fill="#bb2b5b" stroke="#fcfcfc" stroke-width="0.40">R</text>
<text transform="translate(99.05 28.40) scale(1.1188 1)" font-size="20.00" fill="#bb2b5b" stroke="#fcfcfc" stroke-width="0.40">e</text>
<text transform="translate(110.63 28.40) scale(1.0240 1)" font-size="20.00" fill="#bb2b5b" stroke="#fcfcfc" stroke-width="0.40">v</text>
<text transform="translate(119.85 28.40) scale(1.1188 1)" font-size="20.00" fill="#bb2b5b" stroke="#fcfcfc" stroke-width="0.40">e</text>
<text transform="translate(132.08 28.40) scale(0.9181 1)" font-size="20.00" fill="#bb2b5b" stroke="#fcfcfc" stroke-width="0.40">n</text>
<text transform="translate(142.32 28.40) scale(0.9063 1)" font-size="20.00" fill="#bb2b5b" stroke="#fcfcfc" stroke-width="0.40">u</text>
<text transform="translate(152.85 28.40) scale(0.8027 1)" font-size="20.00" fill="#bb2b5b" stroke="#fcfcfc" stroke-width="0.40">s</text>
<text transform="translate(167.10 28.40) scale(0.9070 1)" font-size="24.20" fill="#bb2b5b" stroke="#fcfcfc" stroke-width="0.40">D</text>
<text transform="translate(183.36 28.40) scale(0.8533 1)" font-size="20.00" fill="#bb2b5b" stroke="#fcfcfc" stroke-width="0.40">i</text>
<text transform="translate(187.63 28.40) scale(0.9936 1)" font-size="20.00" fill="#bb2b5b" stroke="#fcfcfc" stroke-width="0.40">v</text>
<text transform="translate(196.97 28.40) scale(1.0975 1)" font-size="20.00" fill="#bb2b5b" stroke="#fcfcfc" stroke-width="0.40">e</text>
<text transform="translate(209.00 28.40) scale(0.9800 1)" font-size="20.00" fill="#bb2b5b" stroke="#fcfcfc" stroke-width="0.40">r</text>
<text transform="translate(215.37 28.40) scale(0.7798 1)" font-size="20.00" fill="#bb2b5b" stroke="#fcfcfc" stroke-width="0.40">s</text>
<text transform="translate(228.94 28.40) scale(1.1452 1)" font-size="20.00" fill="#bb2b5b" stroke="#fcfcfc" stroke-width="0.40">d</text>
<text transform="translate(241.11 28.40) scale(1.1615 1)" font-size="20.00" fill="#bb2b5b" stroke="#fcfcfc" stroke-width="0.40">e</text>
<text transform="translate(260.90 28.40) scale(0.9887 1)" font-size="24.20" fill="#bb2b5b" stroke="#fcfcfc" stroke-width="0.40">2</text>
<text transform="translate(273.25 28.40) scale(1.0027 1)" font-size="24.20" fill="#bb2b5b" stroke="#fcfcfc" stroke-width="0.40">0</text>
<text transform="translate(286.24 28.40) scale(1.0200 1)" font-size="24.20" fill="#bb2b5b" stroke="#fcfcfc" stroke-width="0.40">0</text>
<text transform="translate(299.21 28.40) scale(1.0460 1)" font-size="24.20" fill="#bb2b5b" stroke="#fcfcfc" stroke-width="0.40">0</text>
<path d="M321.50 14.00 L324.30 16.70" fill="none" stroke="#bb2b5b" stroke-width="1.4"/>
<ellipse cx="324.50" cy="23.20" rx="4.47" ry="4.63" fill="none" stroke="#bb2b5b" stroke-width="1.45"/>
<path d="M328.97 18.00 L328.97 28.40" fill="none" stroke="#bb2b5b" stroke-width="1.45"/>
<text transform="translate(336.60 28.40) scale(0.9887 1)" font-size="24.20" fill="#bb2b5b" stroke="#fcfcfc" stroke-width="0.40">2</text>
<text transform="translate(349.55 28.40) scale(1.0027 1)" font-size="24.20" fill="#bb2b5b" stroke="#fcfcfc" stroke-width="0.40">0</text>
<path d="M364.10 13.35 L366.15 11.95 L366.15 28.40" fill="none" stroke="#bb2b5b" stroke-width="1.50"/>
<text transform="translate(368.19 28.40) scale(0.9184 1)" font-size="24.20" fill="#bb2b5b" stroke="#fcfcfc" stroke-width="0.40">4</text>
<rect x="238.55" y="11.2" width="1.55" height="3" fill="#bb2b5b"/>
<text transform="translate(390.17 28.40) scale(0.9872 1)" font-size="13.60" fill="#bb2b5b" stroke="#fcfcfc" stroke-width="0.40">(en</text>
<text transform="translate(412.80 28.40) scale(0.9924 1)" font-size="13.60" fill="#bb2b5b" stroke="#fcfcfc" stroke-width="0.40">milliers</text>
<text transform="translate(458.13 28.40) scale(0.9934 1)" font-size="13.60" fill="#bb2b5b" stroke="#fcfcfc" stroke-width="0.40">d&#39;€)</text>
<text transform="translate(35.69 514.00) scale(0.9350 1)" font-size="25.50" fill="#bb2b5b" stroke="#cfcfcf" stroke-width="0.42">C</text>
<text transform="translate(52.34 514.00) scale(0.7933 1)" font-size="25.50" fill="#bb2b5b" stroke="#cfcfcf" stroke-width="0.42">H</text>
<path d="M69.50 503.50 L72.50 499.50 L75.50 503.50" fill="none" stroke="#bb2b5b" stroke-width="1.25" stroke-linejoin="miter"/>
<ellipse cx="72.50" cy="509.70" rx="4.15" ry="3.80" fill="none" stroke="#bb2b5b" stroke-width="1.30"/>
<path d="M76.65 505.40 L76.65 514.00" fill="none" stroke="#bb2b5b" stroke-width="1.30"/>
<text transform="translate(78.30 514.00) scale(0.4803 1)" font-size="25.50" fill="#bb2b5b" stroke="#cfcfcf" stroke-width="0.42">L</text>
<text transform="translate(84.52 514.00) scale(0.9766 1)" font-size="25.50" fill="#bb2b5b" stroke="#cfcfcf" stroke-width="0.42">O</text>
<text transform="translate(104.09 514.00) scale(0.9127 1)" font-size="25.50" fill="#bb2b5b" stroke="#cfcfcf" stroke-width="0.42">N</text>
<text transform="translate(121.53 514.00) scale(0.6676 1)" font-size="25.50" fill="#bb2b5b" stroke="#cfcfcf" stroke-width="0.42">S</text>
<text transform="translate(131.96 514.00) scale(0.9156 1)" font-size="25.50" fill="#bb2b5b" stroke="#cfcfcf" stroke-width="0.42">-</text>
<text transform="translate(140.98 514.00) scale(0.6295 1)" font-size="25.50" fill="#bb2b5b" stroke="#cfcfcf" stroke-width="0.42">E</text>
<text transform="translate(152.08 514.00) scale(0.8705 1)" font-size="25.50" fill="#bb2b5b" stroke="#cfcfcf" stroke-width="0.42">N</text>
<text transform="translate(166.26 514.00) scale(0.9156 1)" font-size="25.50" fill="#bb2b5b" stroke="#cfcfcf" stroke-width="0.42">-</text>
<text transform="translate(174.50 514.00) scale(0.9288 1)" font-size="25.50" fill="#bb2b5b" stroke="#cfcfcf" stroke-width="0.42">C</text>
<text transform="translate(191.38 514.00) scale(0.7722 1)" font-size="25.50" fill="#bb2b5b" stroke="#cfcfcf" stroke-width="0.42">H</text>
<text transform="translate(204.75 514.00) scale(0.9463 1)" font-size="25.50" fill="#bb2b5b" stroke="#cfcfcf" stroke-width="0.42">A</text>
<text transform="translate(217.39 514.00) scale(1.2487 1)" font-size="25.50" fill="#bb2b5b" stroke="#cfcfcf" stroke-width="0.42">M</text>
<text transform="translate(243.44 514.00) scale(0.6484 1)" font-size="25.50" fill="#bb2b5b" stroke="#cfcfcf" stroke-width="0.42">P</text>
<text transform="translate(251.95 514.00) scale(0.9936 1)" font-size="25.50" fill="#bb2b5b" stroke="#cfcfcf" stroke-width="0.42">A</text>
<text transform="translate(267.89 514.00) scale(0.9431 1)" font-size="25.50" fill="#bb2b5b" stroke="#cfcfcf" stroke-width="0.42">G</text>
<text transform="translate(285.32 514.00) scale(0.8986 1)" font-size="25.50" fill="#bb2b5b" stroke="#cfcfcf" stroke-width="0.42">N</text>
<text transform="translate(301.55 514.00) scale(0.4052 1)" font-size="25.50" fill="#bb2b5b" stroke="#cfcfcf" stroke-width="0.42">E</text>
<g fill="none" stroke-linecap="round" stroke-linejoin="round" transform="translate(1.5 1.5)" filter="url(#sh)" opacity="0.7">
<path d="M582.8 497.4 C585 493.8 591 492.8 596 494.3 C601.6 496.2 601.2 502.2 597 504.8 C594.6 506.2 592 506.7 590.2 506.8 M588.6 494.2 C588.4 502 587.7 510 587.3 516.8" stroke="#8c8c8c" stroke-width="2.6"/>
<path d="M605.2 499.7 C605.6 504 605.7 509 605.8 513.2 M605.6 504 C606.5 501.6 609.5 499.8 612.8 501.6" stroke="#8c8c8c" stroke-width="2.45"/>
<ellipse cx="622.7" cy="506.1" rx="6.1" ry="6.9" stroke="#8c8c8c" stroke-width="2.55"/>
<path d="M636 497.3 L650 511.3 M650 497.3 L636 511.3" stroke="#8c8c8c" stroke-width="3.3"/>
<circle cx="636.0" cy="497.4" r="3.4" fill="#8c8c8c" stroke="none"/><circle cx="650.0" cy="497.4" r="3.4" fill="#8c8c8c" stroke="none"/>
<circle cx="636.0" cy="511.2" r="3.4" fill="#8c8c8c" stroke="none"/><circle cx="650.0" cy="511.2" r="3.4" fill="#8c8c8c" stroke="none"/>
<path d="M661.4 499.6 C661.3 504 661 510 660.2 513.6" stroke="#8c8c8c" stroke-width="2.15"/><circle cx="661.4" cy="494.6" r="1.8" fill="#8c8c8c" stroke="none"/>
<path d="M672.3 496.6 C671.9 501 671.2 507 671.6 510.5 C672 513 674.5 513.5 677 512.7 M665.8 502.3 C669 502.1 674 501.7 677.2 501.5" stroke="#8c8c8c" stroke-width="2.15"/>
<path d="M682.3 499.2 C682.2 504 682 510 681.3 513.6" stroke="#8c8c8c" stroke-width="2.15"/><circle cx="682.6" cy="494.3" r="1.8" fill="#8c8c8c" stroke="none"/>
</g>
<g fill="none" stroke-linecap="round" stroke-linejoin="round">
<path d="M582.8 497.4 C585 493.8 591 492.8 596 494.3 C601.6 496.2 601.2 502.2 597 504.8 C594.6 506.2 592 506.7 590.2 506.8 M588.6 494.2 C588.4 502 587.7 510 587.3 516.8" stroke="#1878d8" stroke-width="2.6"/>
<path d="M605.2 499.7 C605.6 504 605.7 509 605.8 513.2 M605.6 504 C606.5 501.6 609.5 499.8 612.8 501.6" stroke="#1e9440" stroke-width="2.45"/>
<ellipse cx="622.7" cy="506.1" rx="6.1" ry="6.9" stroke="#f5881f" stroke-width="2.55"/>
<path d="M636 497.3 L650 511.3 M650 497.3 L636 511.3" stroke="#1878d8" stroke-width="3.3"/>
<circle cx="636.0" cy="497.4" r="3.4" fill="#1878d8" stroke="none"/><circle cx="650.0" cy="497.4" r="3.4" fill="#1878d8" stroke="none"/>
<circle cx="636.0" cy="511.2" r="3.4" fill="#1878d8" stroke="none"/><circle cx="650.0" cy="511.2" r="3.4" fill="#1878d8" stroke="none"/>
<path d="M661.4 499.6 C661.3 504 661 510 660.2 513.6" stroke="#e8381a" stroke-width="2.15"/><circle cx="661.4" cy="494.6" r="1.8" fill="#e8381a" stroke="none"/>
<path d="M672.3 496.6 C671.9 501 671.2 507 671.6 510.5 C672 513 674.5 513.5 677 512.7 M665.8 502.3 C669 502.1 674 501.7 677.2 501.5" stroke="#f5881f" stroke-width="2.15"/>
<path d="M682.3 499.2 C682.2 504 682 510 681.3 513.6" stroke="#1e9440" stroke-width="2.15"/><circle cx="682.6" cy="494.3" r="1.8" fill="#1e9440" stroke="none"/>
</g>
</svg>
</body></html>
